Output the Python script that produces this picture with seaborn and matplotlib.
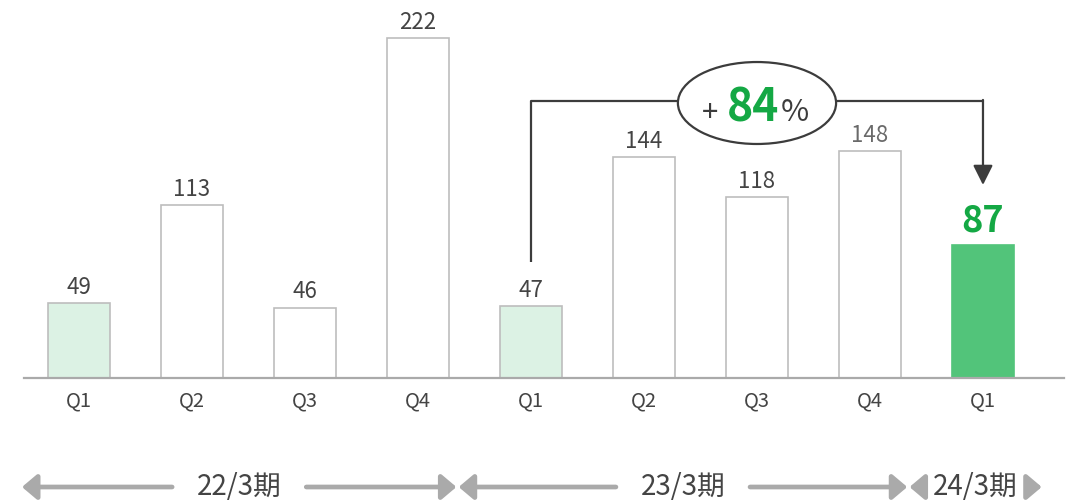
import matplotlib
matplotlib.use("Agg")
import matplotlib.pyplot as plt
from matplotlib.patches import Ellipse
import seaborn as sns
import pandas as pd

# ---- data ----
quarters = ["Q1", "Q2", "Q3", "Q4", "Q1", "Q2", "Q3", "Q4", "Q1"]
values = [49, 113, 46, 222, 47, 144, 118, 148, 87]
periods = ["22/3期", "23/3期", "24/3期"]
period_ranges = [(-0.505, 3.34), (3.36, 7.33), (7.35, 8.52)]
growth_label = "84"
compare_from, compare_to = 4, 8

sns.set_theme(style="white")
plt.rcParams["font.family"] = ["Noto Sans CJK JP", "DejaVu Sans"]

W, H = 1074, 503
fig = plt.figure(figsize=(W / 100, H / 100), dpi=100)
base_px = 378
ax = fig.add_axes([24 / W, (H - base_px) / H, 1040 / W, base_px / H])

df = pd.DataFrame({"pos": [str(i) for i in range(len(values))], "value": values})
fills = ["#dcf2e4", "white", "white", "white", "#dcf2e4", "white", "white", "white", "#52c47a"]
edges = ["#bdbdbd"] * 8 + ["#52c47a"]
sns.barplot(data=df, x="pos", y="value", hue="pos", palette=fills, legend=False,
            width=0.557, ax=ax, saturation=1)
for p, ec in zip(ax.patches, edges):
    p.set_edgecolor(ec)
    p.set_linewidth(1.2)

ax.set_xlim(-0.487, 8.717)
ax.set_ylim(0, base_px / 1.532)
for s in ["top", "right", "left"]:
    ax.spines[s].set_visible(False)
ax.spines["bottom"].set_color("#aaaaaa")
ax.spines["bottom"].set_linewidth(1.6)
ax.set_yticks([])
ax.set_xticks(range(len(quarters)))
ax.set_xticklabels(quarters, fontsize=14.5, color="#444444")
ax.tick_params(axis="x", length=0, pad=9)
ax.set_xlabel("")
ax.set_ylabel("")

# value labels
label_colors = ["#444444"] * 7 + ["#6a6a6a", "#14a844"]
for i, v in enumerate(values):
    if i == len(values) - 1:
        ax.annotate(str(v), (i, v), xytext=(0, 4), textcoords="offset points",
                    ha="center", va="bottom", fontsize=26, fontweight="bold",
                    color=label_colors[i])
    else:
        ax.annotate(str(v), (i, v), xytext=(0, 3), textcoords="offset points",
                    ha="center", va="bottom", fontsize=16, color=label_colors[i])

# comparison bracket
line_c = "#3c3c3c"
yb = 181
ex, ew, eh = 6, 1.4, 53.5
ax.plot([compare_from, compare_from, ex - ew / 2], [values[compare_from] + 29, yb, yb],
        color=line_c, lw=1.6, solid_capstyle="butt", zorder=3)
ax.plot([ex + ew / 2, compare_to], [yb, yb], color=line_c, lw=1.6, zorder=3)
ax.annotate("", xy=(compare_to, values[compare_to] + 39), xytext=(compare_to, yb + 0.5),
            arrowprops=dict(arrowstyle="-|>,head_length=0.6,head_width=0.3",
                            color=line_c, lw=1.6, shrinkA=0, shrinkB=0,
                            mutation_scale=20), zorder=3)
ax.add_patch(Ellipse((ex, yb - 1.5), ew, eh, facecolor="white", edgecolor=line_c,
                     lw=1.6, zorder=4, clip_on=False))
ty = yb - 1.5
ax.annotate("+", (ex, ty), xytext=(-34, -13), textcoords="offset points",
            ha="center", va="baseline", fontsize=21, color="#3c3c3c", zorder=5)
ax.annotate(growth_label, (ex, ty), xytext=(-3, -13), textcoords="offset points",
            ha="center", va="baseline", fontsize=32, fontweight="bold",
            color="#14a844", zorder=5)
ax.annotate("%", (ex, ty), xytext=(27, -13), textcoords="offset points",
            ha="center", va="baseline", fontsize=22, color="#3c3c3c", zorder=5)

# period arrows below axis
tr = ax.get_xaxis_transform()
yp = (base_px - 487) / base_px
unit = 112.875
gap = 67 / unit
head = 0.13
arr_c = "#aaaaaa"
for name, (a, b) in zip(periods, period_ranges):
    c = (a + b) / 2
    g = min(gap, (b - a) / 2 - head)
    ax.text(c, yp, name, transform=tr, ha="center", va="center", fontsize=20,
            color="#444444")
    for start, end in [(c - g, a), (c + g, b)]:
        ax.annotate("", xy=(end, yp), xytext=(start, yp), xycoords=tr, textcoords=tr,
                    arrowprops=dict(arrowstyle="-|>,head_length=0.45,head_width=0.38",
                                    color=arr_c, lw=3.4, shrinkA=0, shrinkB=0,
                                    mutation_scale=20), annotation_clip=False)

fig.savefig("out.png", dpi=100)
